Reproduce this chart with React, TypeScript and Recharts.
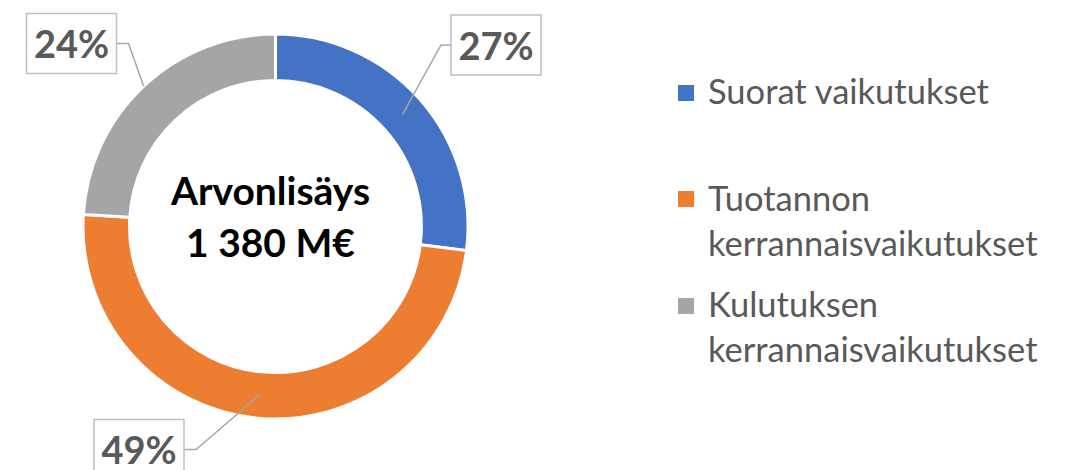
import React from "react";
import { PieChart, Pie, Cell, Legend } from "recharts";

// 数値データ
const CATEGORIES = [
  "Suorat vaikutukset",
  "Tuotannon kerrannaisvaikutukset",
  "Kulutuksen kerrannaisvaikutukset",
];
const SHARES = [27, 49, 24];
const LEGEND_LINES = [
  ["Suorat vaikutukset"],
  ["Tuotannon", "kerrannaisvaikutukset"],
  ["Kulutuksen", "kerrannaisvaikutukset"],
];
const CENTER_TITLE = "Arvonlisäys";
const CENTER_VALUE = "1 380 M€";

const COLORS = ["#4472C4", "#ED7D31", "#A5A5A5"];
const FONT = "Lato, 'Open Sans', sans-serif";

const CX = 270.5;
const CY = 221.5;
const RADIAN = Math.PI / 180;

// ラベル枠の配置（円の中心からのずれ）
const LABEL_LAYOUT = [
  { dx: 220.5, dy: -181.5, side: "left", fromOuter: false },
  { dx: -136.5, dy: 223, side: "right", fromOuter: false },
  { dx: -204, dy: -183, side: "right", fromOuter: true },
];
const BOX_W = 90;
const BOX_H = 60;

const data = CATEGORIES.map((name, i) => ({ name, value: SHARES[i] }));

const renderLabel = (props: any) => {
  const { cx, cy, midAngle, innerRadius, outerRadius, index, percent } = props;
  const lay = LABEL_LAYOUT[index];
  const r = lay.fromOuter ? outerRadius : (innerRadius + outerRadius) / 2;
  const sx = cx + r * Math.cos(-midAngle * RADIAN);
  const sy = cy + r * Math.sin(-midAngle * RADIAN);
  const bcx = cx + lay.dx;
  const bcy = cy + lay.dy;
  const bx = bcx - BOX_W / 2;
  const by = bcy - BOX_H / 2;
  const edge = lay.side === "left" ? bx : bx + BOX_W;
  const ex = lay.side === "left" ? edge - 10 : edge + 12;
  return (
    <g key={`label-${index}`}>
      <polyline
        points={`${sx},${sy} ${ex},${bcy} ${edge},${bcy}`}
        fill="none"
        stroke="#A6A6A6"
        strokeWidth={1.5}
      />
      <rect
        x={bx}
        y={by}
        width={BOX_W}
        height={BOX_H}
        fill="#FFFFFF"
        stroke="#BFBFBF"
        strokeWidth={1.5}
      />
      <text
        x={bcx}
        y={bcy + 14.5}
        textAnchor="middle"
        fill="#595959"
        fontFamily={FONT}
        fontWeight={700}
        fontSize={38}
      >
        {`${Math.round(percent * 100)}%`}
      </text>
    </g>
  );
};

const renderLegend = (props: any) => {
  const { payload = [] } = props;
  return (
    <div style={{ position: "relative", fontFamily: FONT }}>
      {payload.map((_entry: any, i: number) => (
        <div
          key={`legend-${i}`}
          style={{ position: "relative", height: 106.5 }}
        >
          <div
            style={{
              position: "absolute",
              left: 0,
              top: 16.7,
              width: 16,
              height: 16,
              background: COLORS[i],
            }}
          />
          <div
            style={{
              position: "absolute",
              left: 30,
              top: 0,
              fontSize: 34.5,
              lineHeight: "45px",
              color: "#595959",
              whiteSpace: "nowrap",
            }}
          >
            {LEGEND_LINES[i].map((line, j) => (
              <div key={j}>{line}</div>
            ))}
          </div>
        </div>
      ))}
    </div>
  );
};

export default function App() {
  return (
    <div style={{ position: "absolute", left: 0, top: 0, background: "#fff" }}>
      <PieChart width={1071} height={470}>
        <Pie
          data={data}
          dataKey="value"
          nameKey="name"
          cx={CX}
          cy={CY}
          innerRadius={146}
          outerRadius={192.5}
          startAngle={90}
          endAngle={-270}
          stroke="#FFFFFF"
          strokeWidth={3}
          label={renderLabel}
          labelLine={false}
          isAnimationActive={false}
        >
          {data.map((_, index) => (
            <Cell key={`cell-${index}`} fill={COLORS[index % COLORS.length]} />
          ))}
        </Pie>
        <text
          x={CX}
          y={205}
          textAnchor="middle"
          fontFamily={FONT}
          fontWeight={700}
          fontSize={39}
          fill="#000000"
        >
          {CENTER_TITLE}
        </text>
        <text
          x={CX}
          y={257}
          textAnchor="middle"
          fontFamily={FONT}
          fontWeight={700}
          fontSize={39}
          fill="#000000"
        >
          {CENTER_VALUE}
        </text>
        <Legend
          layout="vertical"
          verticalAlign="top"
          align="right"
          content={renderLegend}
          wrapperStyle={{ left: 678, top: 68, width: 390 }}
        />
      </PieChart>
    </div>
  );
}
